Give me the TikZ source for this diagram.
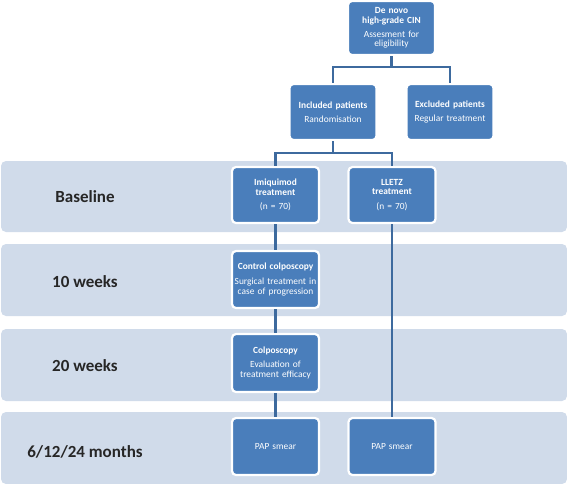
\documentclass[tikz,border=0pt]{standalone}
\usepackage{fontspec}
\setmainfont{Carlito}
\definecolor{boxblue}{HTML}{4A7EBB}
\definecolor{bandblue}{HTML}{D0DBEA}
\definecolor{linkblue}{HTML}{3D6A9E}
\definecolor{labelgray}{HTML}{262626}

\begin{document}
\begin{tikzpicture}[x=1pt,y=-1pt,
  band/.style={rectangle,rounded corners=5pt,fill=bandblue,minimum width=566pt,inner sep=0pt},
  stage/.style={text=labelgray,font=\fontsize{17}{20}\selectfont\bfseries},
  box/.style={rectangle,rounded corners=4pt,fill=boxblue,draw=white,line width=2.2pt,
    minimum width=87pt,minimum height=56pt,inner sep=1pt,text width=85pt,align=center,
    text=white,font=\fontsize{9.4}{9.8}\selectfont},
  link/.style={draw=linkblue,line width=2.4pt}]
\useasboundingbox (0,0) rectangle (567,483);
\node [band,minimum height=71pt] (bandbase) at (284,196.5) {};
\node [band,minimum height=72pt] (bandten) at (284,280) {};
\node [band,minimum height=72pt] (bandtwenty) at (284,365) {};
\node [band,minimum height=72pt] (bandmonths) at (284,448) {};
\node [stage] (lbase) at (85,197) {Baseline};
\node [stage] (lten) at (85,282) {10 weeks};
\node [stage] (ltwenty) at (85,366) {20 weeks};
\node [stage] (lmonths) at (85,452) {6/12/24 months};

\node [box,minimum height=54pt] (start) at (391.5,28) {\textbf{De novo}\\\textbf{high-grade CIN}\\[4pt]Assesment for\\eligibility};
\node [box] (incl) at (333,112) {\textbf{Included patients}\\[4pt]Randomisation};
\node [box] (excl) at (450,112) {\textbf{Excluded patients}\\[4pt]Regular treatment};
\node [box] (imiq) at (275.5,195) {\textbf{Imiquimod}\\\textbf{treatment}\\[5pt](n = 70)};
\node [box] (lletz) at (392,195) {\textbf{LLETZ}\\\textbf{treatment}\\[5pt](n = 70)};
\node [box,minimum height=57pt] (ctrl) at (275.5,279.5) {\textbf{Control colposcopy}\\[5pt]Surgical treatment in\\case of progression};
\node [box,minimum height=58pt] (colpo) at (275.5,363) {\textbf{Colposcopy}\\[4pt]Evaluation of\\treatment efficacy};
\node [box,minimum height=57pt] (papimiq) at (275.5,446.5) {PAP smear};
\node [box,minimum height=57pt] (paplletz) at (392,446.5) {PAP smear};

\coordinate (splitone) at (391.5,67);
\coordinate (splittwo) at (333,153);
\draw [link] (start.south) -- (splitone);
\draw [link] (incl.north) |- (splitone) -| (excl.north);
\draw [link] (incl.south) -- (splittwo);
\draw [link] (imiq.north) |- (splittwo) -| (lletz.north);
\draw [link] (imiq.south) -- (ctrl.north);
\draw [link] (ctrl.south) -- (colpo.north);
\draw [link] (colpo.south) -- (papimiq.north);
\draw [link] (lletz.south) -- (paplletz.north);
\end{tikzpicture}
\end{document}
